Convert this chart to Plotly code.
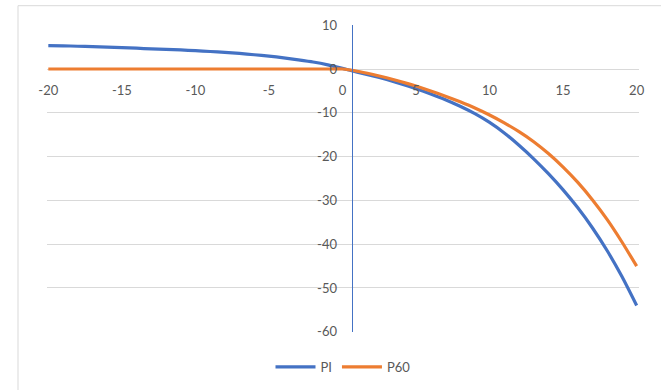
import plotly.graph_objects as go

x_values = list(range(-20, 21))

pi_values = [5.35, 5.3, 5.2, 5.1, 5.0, 4.9, 4.75, 4.6, 4.5, 4.35, 4.2,
             4.0, 3.8, 3.55, 3.25, 2.95, 2.55, 2.1, 1.6, 0.95, 0.15,
             -0.7, -1.5, -2.4, -3.4, -4.5, -5.7, -7.0, -8.5, -10.2, -12.2,
             -14.6, -17.4, -20.5, -23.9, -27.6, -31.7, -36.3, -41.5, -47.4, -54.0]

p60_values = [0.0] * 20 + [0.0,
              -0.5, -1.2, -2.0, -2.9, -3.9, -5.0, -6.2, -7.5, -8.9, -10.5,
              -12.3, -14.3, -16.6, -19.3, -22.4, -25.9, -29.9, -34.4, -39.5, -45.0]

series_names = ["PI", "P60"]
series_colors = ["#4472C4", "#ED7D31"]

x_ticks = [-20, -15, -10, -5, 0, 5, 10, 15, 20]
y_ticks = [10, 0, -10, -20, -30, -40, -50, -60]

TEXT = "#595959"
GRID = "#D9D9D9"
FONT = "Lato"

fig = go.Figure()
for name, vals, col in zip(series_names, [pi_values, p60_values], series_colors):
    fig.add_trace(go.Scatter(x=x_values, y=vals, mode="lines", name=name,
                             line=dict(color=col, width=3.2, shape="spline", smoothing=0.5)))

L, R, T, B = 47, 22, 25, 58
W, H = 661, 390
pw, ph = W - L - R, H - T - B

x_min, x_max = -20.09, 20.16
y_min, y_max = -60.0, 10.0

def xfrac(v):
    return (v - x_min) / (x_max - x_min)

def yfrac(v):
    return (v - y_min) / (y_max - y_min)

fig.update_layout(
    width=W, height=H,
    margin=dict(l=L, r=R, t=T, b=B, autoexpand=False),
    paper_bgcolor="white", plot_bgcolor="white",
    font=dict(family=FONT, size=13, color=TEXT),
    showlegend=True,
    legend=dict(orientation="h", x=0.5, xanchor="center",
                yref="container", y=(H - 367) / H, yanchor="middle",
                font=dict(family=FONT, size=13, color=TEXT), itemwidth=40,
                bgcolor="rgba(0,0,0,0)"),
    xaxis=dict(range=[x_min, x_max], tickvals=x_ticks, ticktext=[str(v) for v in x_ticks],
               showgrid=False, zeroline=False, showline=False,
               anchor="free", position=yfrac(0), ticks="", ticklabelstandoff=12,
               tickfont=dict(family=FONT, size=13, color=TEXT)),
    yaxis=dict(range=[y_min - 0.05, y_max + 0.05], tickvals=y_ticks, ticktext=[str(v) for v in y_ticks],
               showgrid=True, gridcolor=GRID, gridwidth=1, zeroline=False,
               showline=True, linecolor="#4472C4", linewidth=1,
               anchor="free", position=xfrac(0.62), ticks="", ticklabelstandoff=12,
               tickfont=dict(family=FONT, size=13, color=TEXT)),
    shapes=[dict(type="rect", xref="paper", yref="paper",
                 x0=(18 - L) / pw, x1=(W + 20 - L) / pw,
                 y0=-0.5, y1=(H - B - 5.7) / ph,
                 line=dict(color=GRID, width=1), fillcolor="rgba(0,0,0,0)", layer="below")],
)

fig.write_html("out.html", config={"displayModeBar": False},
               post_script="document.body.style.margin='0';document.body.style.padding='0';")
